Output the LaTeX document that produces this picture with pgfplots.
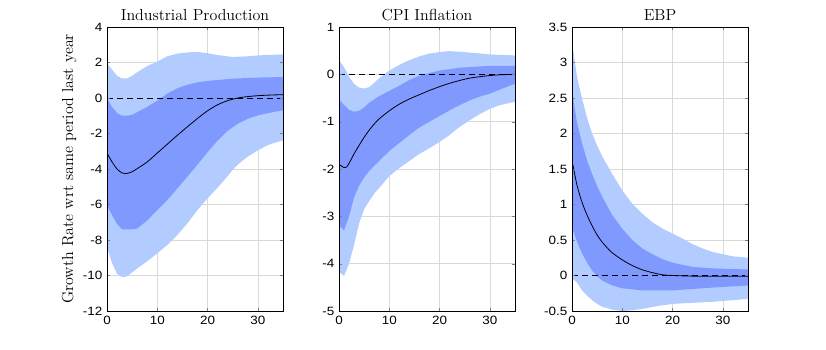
\documentclass[border=0pt]{standalone}
\usepackage{pgfplots}
\pgfplotsset{compat=1.18}
\usepackage{fontspec}
\newfontfamily\arial{Liberation Sans}[FakeStretch=1.12]
\definecolor{lightband}{RGB}{179,204,255}
\definecolor{darkband}{RGB}{128,153,255}
\pgfplotsset{
  layers/mylayers/.define layer set={axis background,axis grid,pre main,main,axis ticks,axis lines,axis tick labels,axis descriptions,axis foreground}{
    grid style={/pgfplots/on layer=axis grid},
    tick style={/pgfplots/on layer=axis ticks},
    axis line style={/pgfplots/on layer=axis lines},
    label style={/pgfplots/on layer=axis descriptions},
    legend style={/pgfplots/on layer=axis descriptions},
    title style={/pgfplots/on layer=axis descriptions},
    colorbar style={/pgfplots/on layer=axis descriptions},
    ticklabel style={/pgfplots/on layer=axis tick labels},
    axis background@ style={/pgfplots/on layer=axis background},
    3d box foreground style={/pgfplots/on layer=axis foreground},
  },
}
\begin{document}
\begin{tikzpicture}
\path (0pt,0pt) rectangle (619.5pt,262.5pt);
\pgfplotsset{
  panel/.style={
    set layers=mylayers,
    scale only axis, width=132pt, height=213pt, anchor=south west,
    xmin=0, xmax=35, xtick={0,10,20,30},
    grid=major, major grid style={draw=black!15, line width=0.4pt},
    axis line style={line width=0.5pt},
    tick align=inside, tick pos=both, major tick length=2pt,
    tick label style={font=\arial\fontsize{9}{10}\selectfont},
    /pgf/number format/assume math mode=true,
    title style={font=\fontsize{12}{14}\selectfont, yshift=-5pt},
  },
  band/.style={fill=#1, draw=none},
  zero/.style={black, line width=0.5pt, dash pattern=on 4.5pt off 3pt},
}
% ---------- Industrial Production ----------
\begin{axis}[panel, at={(80.25pt,29.25pt)}, ymin=-12, ymax=4, ytick={-12,-10,...,4},
  title={Industrial Production},
  ylabel={Growth Rate wrt same period last year},
  ylabel style={font=\fontsize{12}{14}\selectfont, yshift=-2pt}]
\addplot[band=lightband] coordinates {
(0,1.95)(1,1.6)(2,1.25)(3,1.1)(4,1.1)(5,1.25)(6,1.45)(8,1.8)(10,2.05)(12,2.35)(14,2.5)(16,2.57)(18,2.6)(20,2.52)(22,2.42)(25,2.31)(28,2.35)(30,2.4)(35,2.46)
(35,-2.38)(32,-2.65)(30,-2.95)(28,-3.3)(26,-3.75)(25,-4.05)(24,-4.4)(22,-5.05)(20,-5.65)(18,-6.31)(16,-7.06)(14,-7.72)(12,-8.28)(10,-8.75)(8,-9.2)(6,-9.6)(4,-10.05)(3,-10.1)(2,-9.9)(1,-9.3)(0,-8.38)} --cycle;
\addplot[band=darkband] coordinates {
(0,-0.05)(1,-0.5)(2,-0.85)(3,-1.0)(4,-1.0)(5,-0.95)(6,-0.8)(8,-0.5)(10,-0.15)(12,0.25)(14,0.55)(16,0.75)(18,0.88)(20,0.96)(25,1.09)(30,1.15)(35,1.18)
(35,-0.69)(32,-0.85)(30,-0.98)(28,-1.17)(26,-1.45)(24,-1.85)(22,-2.4)(20,-3.05)(18,-3.75)(16,-4.43)(14,-5.09)(12,-5.75)(10,-6.31)(8,-6.9)(6,-7.35)(5,-7.4)(4,-7.4)(3,-7.4)(2,-7.1)(1,-6.6)(0,-6.03)} --cycle;
\addplot[zero] coordinates {(0,0)(35,0)};
\addplot[black, line width=0.6pt, smooth] coordinates {
(0,-3.1)(1,-3.6)(2,-4.0)(3,-4.22)(4,-4.25)(5,-4.15)(6,-3.98)(8,-3.6)(10,-3.1)(12,-2.6)(14,-2.1)(16,-1.62)(18,-1.15)(20,-0.72)(22,-0.38)(24,-0.15)(26,0.0)(28,0.08)(30,0.13)(32,0.16)(35,0.19)};
\end{axis}
% ---------- CPI Inflation ----------
\begin{axis}[panel, at={(254.25pt,29.25pt)}, ymin=-5, ymax=1, ytick={-5,-4,...,1},
  title={CPI Inflation}]
\addplot[band=lightband] coordinates {
(0,0.3)(1,0.15)(2,-0.05)(3,-0.2)(4,-0.28)(5,-0.3)(6,-0.27)(7,-0.18)(8,-0.08)(9,0.0)(10,0.08)(12,0.2)(14,0.3)(16,0.38)(18,0.44)(20,0.47)(22,0.49)(25,0.47)(28,0.44)(30,0.42)(35,0.4)
(35,-0.58)(32,-0.65)(30,-0.73)(28,-0.84)(26,-0.97)(24,-1.11)(22,-1.28)(20,-1.43)(18,-1.56)(16,-1.68)(14,-1.83)(12,-1.98)(10,-2.15)(8,-2.4)(7,-2.52)(6,-2.68)(5,-2.85)(4,-3.15)(3,-3.6)(2,-4.0)(1,-4.26)(0,-4.17)} --cycle;
\addplot[band=darkband] coordinates {
(0,-0.53)(1,-0.65)(2,-0.75)(3,-0.79)(4,-0.77)(5,-0.7)(6,-0.6)(8,-0.46)(10,-0.35)(12,-0.24)(14,-0.12)(16,-0.03)(18,0.03)(20,0.08)(24,0.14)(30,0.18)(35,0.18)
(35,-0.2)(32,-0.32)(30,-0.41)(28,-0.47)(26,-0.55)(24,-0.65)(22,-0.76)(20,-0.88)(18,-1.0)(16,-1.12)(14,-1.28)(12,-1.45)(10,-1.62)(8,-1.83)(6,-2.04)(5,-2.18)(4,-2.35)(3,-2.6)(2,-3.0)(1,-3.29)(0,-3.2)} --cycle;
\addplot[zero] coordinates {(0,0)(35,0)};
\addplot[black, line width=0.6pt, smooth] coordinates {
(0,-1.9)(1,-1.97)(1.5,-1.96)(2,-1.88)(3,-1.68)(4,-1.5)(5,-1.33)(6,-1.18)(7,-1.05)(8,-0.94)(10,-0.77)(12,-0.63)(14,-0.52)(16,-0.43)(18,-0.34)(20,-0.26)(22,-0.19)(24,-0.13)(26,-0.08)(28,-0.05)(30,-0.025)(32,-0.01)(35,0)};
\end{axis}
% ---------- EBP ----------
\begin{axis}[panel, at={(429pt,29.25pt)}, ymin=-0.5, ymax=3.5, ytick={-0.5,0,...,3.5},
  title={EBP}]
\addplot[band=lightband] coordinates {
(0,3.28)(1,2.8)(2,2.49)(3,2.22)(4,2.0)(5,1.83)(6,1.68)(8,1.43)(10,1.2)(12,1.01)(14,0.87)(16,0.75)(18,0.66)(20,0.59)(22,0.52)(24,0.44)(26,0.38)(28,0.33)(30,0.3)(32,0.27)(35,0.25)
(35,-0.33)(28,-0.37)(20,-0.4)(17,-0.43)(14,-0.47)(12,-0.49)(10,-0.5)(8,-0.48)(6,-0.44)(5,-0.4)(4,-0.35)(3,-0.28)(2,-0.21)(1,-0.1)(0,-0.04)} --cycle;
\addplot[band=darkband] coordinates {
(0,2.6)(1,2.15)(2,1.86)(3,1.62)(4,1.43)(5,1.26)(6,1.11)(8,0.85)(10,0.66)(12,0.5)(14,0.38)(16,0.3)(18,0.23)(20,0.18)(24,0.12)(28,0.1)(35,0.085)
(35,-0.14)(28,-0.17)(20,-0.21)(14,-0.21)(10,-0.18)(8,-0.14)(6,-0.07)(5,-0.01)(4,0.07)(3,0.18)(2,0.31)(1,0.48)(0,0.68)} --cycle;
\addplot[zero] coordinates {(0,0)(35,0)};
\addplot[black, line width=0.6pt, smooth] coordinates {
(0,1.62)(1,1.27)(2,1.03)(3,0.85)(4,0.7)(5,0.57)(6,0.47)(7,0.39)(8,0.32)(10,0.22)(12,0.14)(14,0.08)(16,0.04)(18,0.01)(20,0.0)(25,-0.01)(35,-0.01)};
\end{axis}
\end{tikzpicture}
\end{document}
